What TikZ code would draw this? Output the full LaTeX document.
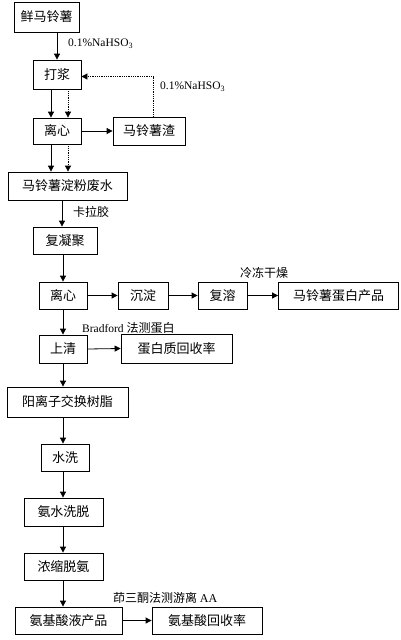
\documentclass[tikz,border=0pt]{standalone}
\usepackage{fontspec}
\setmainfont{Liberation Serif}
\newfontfamily\cjk{Noto Sans CJK SC}
\usetikzlibrary{arrows.meta}
\begin{document}
\begin{tikzpicture}[x=1pt,y=-1pt,
  box/.style={draw,line width=0.8pt,inner sep=0pt,font=\cjk\fontsize{13}{13}\selectfont},
  arr/.style={line width=0.8pt,-{Triangle[length=6pt,width=6pt]}},
  darr/.style={arr,densely dotted},
  lbl/.style={anchor=west,inner sep=0pt,font=\fontsize{11.5}{12}\selectfont},
  clbl/.style={anchor=west,inner sep=0pt,font=\cjk\fontsize{12}{12}\selectfont}]
\useasboundingbox (0,0) rectangle (400,640);
\node[box,minimum width=65pt,minimum height=30pt] (a) at (46.5,17) {鲜马铃薯};
\node[box,minimum width=48pt,minimum height=29pt] (b) at (57,74.5) {打浆};
\node[box,minimum width=48pt,minimum height=26pt] (c) at (57,131) {离心};
\node[box,minimum width=72pt,minimum height=28pt] (d) at (149,131) {马铃薯渣};
\node[box,minimum width=119pt,minimum height=28pt] (e) at (67.5,186) {马铃薯淀粉废水};
\node[box,minimum width=64pt,minimum height=27pt] (f) at (65,240.5) {复凝聚};
\node[box,minimum width=48pt,minimum height=27pt] (g) at (63,295.5) {离心};
\node[box,minimum width=50pt,minimum height=27pt] (h) at (143,295.5) {沉淀};
\node[box,minimum width=49pt,minimum height=27pt] (i) at (222.5,295.5) {复溶};
\node[box,minimum width=120pt,minimum height=27pt] (j) at (338.5,295.5) {马铃薯蛋白产品};
\node[box,minimum width=48pt,minimum height=28pt] (k) at (63,349) {上清};
\node[box,minimum width=111pt,minimum height=29pt] (l) at (176.5,348.5) {蛋白质回收率};
\node[box,minimum width=121pt,minimum height=30pt] (m) at (67.5,402) {阳离子交换树脂};
\node[box,minimum width=48pt,minimum height=27pt] (n) at (65,457.5) {水洗};
\node[box,minimum width=79pt,minimum height=28pt] (o) at (63.5,512) {氨水洗脱};
\node[box,minimum width=79pt,minimum height=27pt] (p) at (63.5,566.5) {浓缩脱氨};
\node[box,minimum width=107pt,minimum height=27pt] (q) at (68.5,620.5) {氨基酸液产品};
\node[box,minimum width=110pt,minimum height=27pt] (r) at (207,620.5) {氨基酸回收率};
% labels
\node[lbl] (t1) at (68,44) {0.1\%NaHSO\textsubscript{3}};
\node[lbl] (t2) at (160,87) {0.1\%NaHSO\textsubscript{3}};
\node[clbl] (t3) at (73,212) {卡拉胶};
\node[clbl] (t4) at (240,273) {冷冻干燥};
\node[lbl] (t5) at (82,328) {Bradford {\cjk\fontsize{12}{12}\selectfont 法测蛋白}};
\node[clbl] (t6) at (113,598) {茚三酮法测游离 {\rmfamily AA}};
% connectors
\draw[arr] (a.south -| b.north) -- (b.north);
\draw[arr] ([xshift=-6pt]b.south) -- ([xshift=-6pt]c.north);
\draw[darr] ([xshift=11pt]b.south) -- ([xshift=11pt]c.north);
\draw[arr] (c.east) -- (d.west);
\draw[darr] ([xshift=4pt]d.north) |- ([yshift=-2pt]b.east);
\draw[arr] ([xshift=-6pt]c.south) -- ([xshift=-6pt]c.south |- e.north);
\draw[darr] ([xshift=11pt]c.south) -- ([xshift=11pt]c.south |- e.north);
\draw[arr] ([xshift=-3pt]f.north |- e.south) -- ([xshift=-3pt]f.north);
\draw[arr] (g.north |- f.south) -- (g.north);
\draw[arr] (g.east) -- (h.west);
\draw[arr] (h.east) -- (i.west);
\draw[arr] (i.east) -- (j.west);
\draw[arr] (g.south) -- (k.north);
\draw[arr] (k.east) -- (l.west);
\draw[arr] (k.south) -- (k.south |- m.north);
\draw[arr] (m.south -| k.south) -- (n.north -| k.south);
\draw[arr] (n.south -| k.south) -- (o.north -| k.south);
\draw[arr] (o.south -| k.south) -- (p.north -| k.south);
\draw[arr] (p.south -| k.south) -- (q.north -| k.south);
\draw[arr] (q.east) -- (r.west);
\end{tikzpicture}
\end{document}
